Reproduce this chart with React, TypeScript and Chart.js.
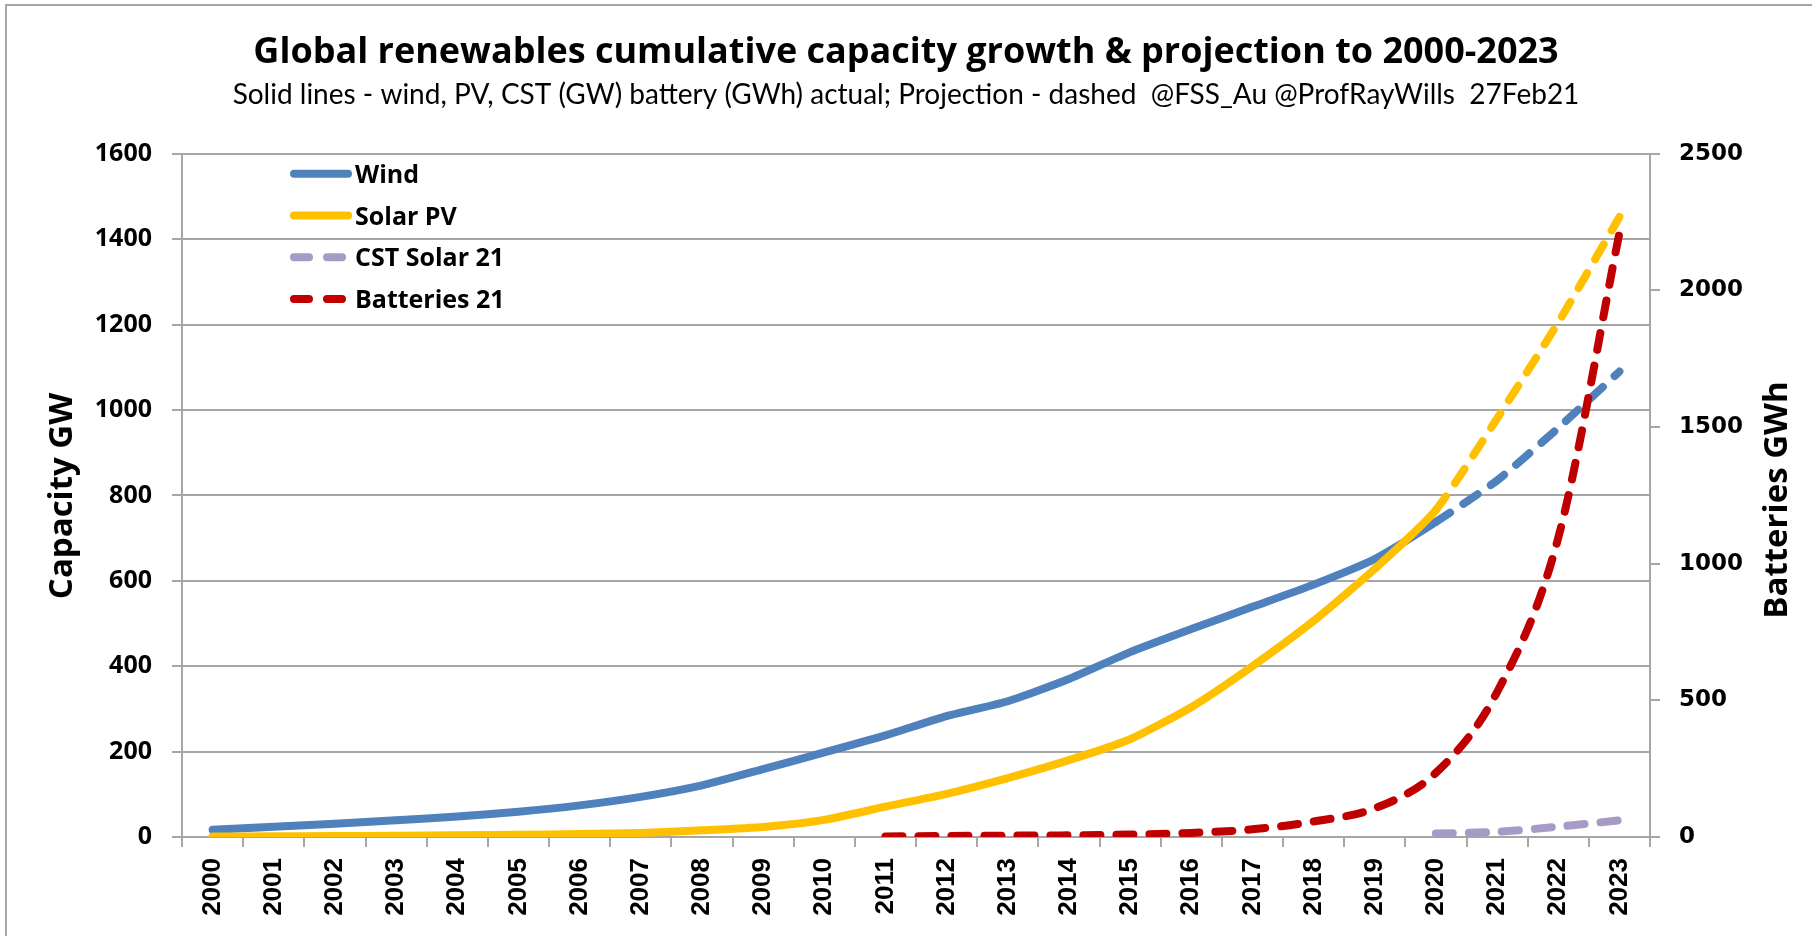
import React, { useEffect, useRef } from 'react';
import { Chart, registerables } from 'chart.js';

Chart.register(...registerables);

const years = ['2000','2001','2002','2003','2004','2005','2006','2007','2008','2009','2010','2011','2012','2013','2014','2015','2016','2017','2018','2019','2020','2021','2022','2023'];
const windGW = [17, 24, 31, 39, 48, 59, 74, 94, 121, 159, 198, 238, 283, 318, 370, 433, 487, 539, 591, 651, 738, 835, 958, 1090];
const solarGW = [1.3, 1.6, 2.2, 2.8, 3.9, 5.4, 6.9, 9.5, 15.8, 23.5, 40, 71, 101, 138, 180, 229, 304, 400, 506, 628, 766, 980, 1205, 1452];
const cstGW = [null, null, null, null, null, null, null, null, null, null, null, null, null, null, null, null, null, null, null, null, 8, 12, 24, 39];
const batteriesGWh = [null, null, null, null, null, null, null, null, null, null, null, 2, 4, 5, 6, 9, 15, 28, 57, 105, 235, 530, 1095, 2210];
const leftMax = 1600;
const leftStep = 200;
const rightMax = 2500;
const rightStep = 500;
const projectionStartIndex = 20;

const titleText = 'Global renewables cumulative capacity growth & projection to 2000-2023';
const subtitleText = 'Solid lines - wind, PV, CST (GW) battery (GWh) actual; Projection - dashed  @FSS_Au @ProfRayWills  27Feb21';
const leftTitle = 'Capacity GW';
const rightTitle = 'Batteries GWh';

const BOLDF = "'Open Sans', Lato, sans-serif";
const REGF = "Lato, 'Open Sans', sans-serif";
const GRID = '#a6a6a6';
const DASH = [17, 16];

const overlayPlugin = {
  id: 'overlay',
  afterDraw(chart: any) {
    const ctx = chart.ctx;
    const ca = chart.chartArea;
    ctx.save();
    chart.data.datasets.forEach((ds: any, i: number) => {
      const y = ca.top + 20 + i * 41.7;
      ctx.beginPath();
      ctx.lineWidth = 8;
      ctx.lineCap = 'round';
      ctx.strokeStyle = ds.borderColor;
      ctx.setLineDash(ds.legendDashed ? [15, 18] : []);
      ctx.moveTo(ca.left + 112, y);
      ctx.lineTo(ca.left + 166, y);
      ctx.stroke();
      ctx.setLineDash([]);
      ctx.fillStyle = '#000';
      ctx.font = `bold 25px ${BOLDF}`;
      ctx.textAlign = 'left';
      ctx.textBaseline = 'alphabetic';
      ctx.fillText(ds.label, ca.left + 173, y + 9);
    });
    ctx.font = `bold 33px ${BOLDF}`;
    ctx.textAlign = 'center';
    ctx.textBaseline = 'alphabetic';
    ctx.fillStyle = '#000';
    ctx.save();
    ctx.translate(72, 496);
    ctx.rotate(-Math.PI / 2);
    ctx.fillText(leftTitle, 0, 0);
    ctx.restore();
    ctx.save();
    ctx.translate(1787, 500);
    ctx.rotate(-Math.PI / 2);
    ctx.fillText(rightTitle, 0, 0);
    ctx.restore();
    ctx.restore();
  },
};

export default function App() {
  const ref = useRef<HTMLCanvasElement | null>(null);
  useEffect(() => {
    document.body.style.margin = '0';
    document.body.style.background = '#fff';
    const canvas = ref.current!;
    const dashAfter = (c: any) => (c.p0DataIndex >= projectionStartIndex ? DASH : undefined);
    const chart = new Chart(canvas, {
      type: 'line',
      data: {
        labels: years,
        datasets: [
          {
            label: 'Wind',
            data: windGW,
            borderColor: '#4F81BD',
            backgroundColor: '#4F81BD',
            borderWidth: 8,
            borderCapStyle: 'round',
            borderJoinStyle: 'round',
            pointRadius: 0,
            tension: 0.2,
            yAxisID: 'y',
            order: 4,
            segment: { borderDash: dashAfter },
          } as any,
          {
            label: 'Solar PV',
            data: solarGW,
            borderColor: '#FFC000',
            backgroundColor: '#FFC000',
            borderWidth: 8,
            borderCapStyle: 'round',
            borderJoinStyle: 'round',
            pointRadius: 0,
            tension: 0.2,
            yAxisID: 'y',
            order: 3,
            segment: { borderDash: dashAfter },
          } as any,
          {
            label: 'CST Solar 21',
            data: cstGW,
            borderColor: '#A69BC5',
            backgroundColor: '#A69BC5',
            borderWidth: 8,
            borderCapStyle: 'round',
            borderDash: DASH,
            pointRadius: 0,
            tension: 0.2,
            yAxisID: 'y',
            order: 2,
            legendDashed: true,
          } as any,
          {
            label: 'Batteries 21',
            data: batteriesGWh,
            borderColor: '#C00000',
            backgroundColor: '#C00000',
            borderWidth: 8,
            borderCapStyle: 'round',
            borderDash: DASH,
            pointRadius: 0,
            cubicInterpolationMode: 'monotone',
            yAxisID: 'y1',
            order: 1,
            legendDashed: true,
          } as any,
        ],
      },
      options: {
        responsive: false,
        animation: false,
        devicePixelRatio: 1,
        layout: { padding: 0 },
        plugins: {
          legend: { display: false },
          tooltip: { enabled: false },
          title: {
            display: true,
            text: titleText,
            color: '#000',
            font: { family: BOLDF, size: 36, weight: 'bold', lineHeight: 1.2 },
            padding: { top: 31, bottom: 0 },
          },
          subtitle: {
            display: true,
            text: subtitleText,
            color: '#000',
            font: { family: REGF, size: 28, weight: 'normal', lineHeight: 1.2 },
            padding: { top: 4, bottom: 42 },
          },
        },
        scales: {
          x: {
            type: 'category',
            offset: true,
            grid: { offset: true, drawOnChartArea: false, drawTicks: true, tickLength: 10, color: GRID, lineWidth: 2 },
            border: { color: GRID, width: 2 },
            ticks: {
              autoSkip: false,
              maxRotation: 90,
              minRotation: 90,
              padding: 11,
              color: '#000',
              font: { family: "'Liberation Sans', Arial, sans-serif", size: 26, weight: 'bold' },
            },
            afterFit: (s: any) => { s.height = 99; },
          },
          y: {
            position: 'left',
            min: 0,
            max: leftMax,
            ticks: {
              stepSize: leftStep,
              padding: 20,
              color: '#000',
              font: { family: BOLDF, size: 25, weight: 'bold' },
              callback: (v: any) => String(v),
            },
            grid: { color: GRID, lineWidth: 2, tickLength: 10 },
            border: { color: GRID, width: 2 },
            afterFit: (s: any) => { s.width = 182; },
          },
          y1: {
            position: 'right',
            min: 0,
            max: rightMax,
            ticks: {
              stepSize: rightStep,
              padding: 19,
              color: '#000',
              font: { family: "'DejaVu Sans', sans-serif", size: 23, weight: 'bold' },
              callback: (v: any) => String(v),
            },
            grid: { drawOnChartArea: false, color: GRID, lineWidth: 2, tickLength: 10 },
            border: { color: GRID, width: 2 },
            afterFit: (s: any) => { s.width = 162; },
          },
        },
      } as any,
      plugins: [overlayPlugin],
    });
    return () => chart.destroy();
  }, []);

  return (
    <div style={{ position: 'fixed', left: 0, top: 0, width: 1812, height: 936, background: '#fff', overflow: 'hidden' }}>
      <div style={{ position: 'absolute', left: 5, top: 4, width: 1812, height: 936, borderLeft: '2px solid #a6a6a6', borderTop: '2px solid #a6a6a6' }} />
      <canvas ref={ref} width={1812} height={936} style={{ position: 'absolute', left: 0, top: 0, width: 1812, height: 936 }} />
    </div>
  );
}
